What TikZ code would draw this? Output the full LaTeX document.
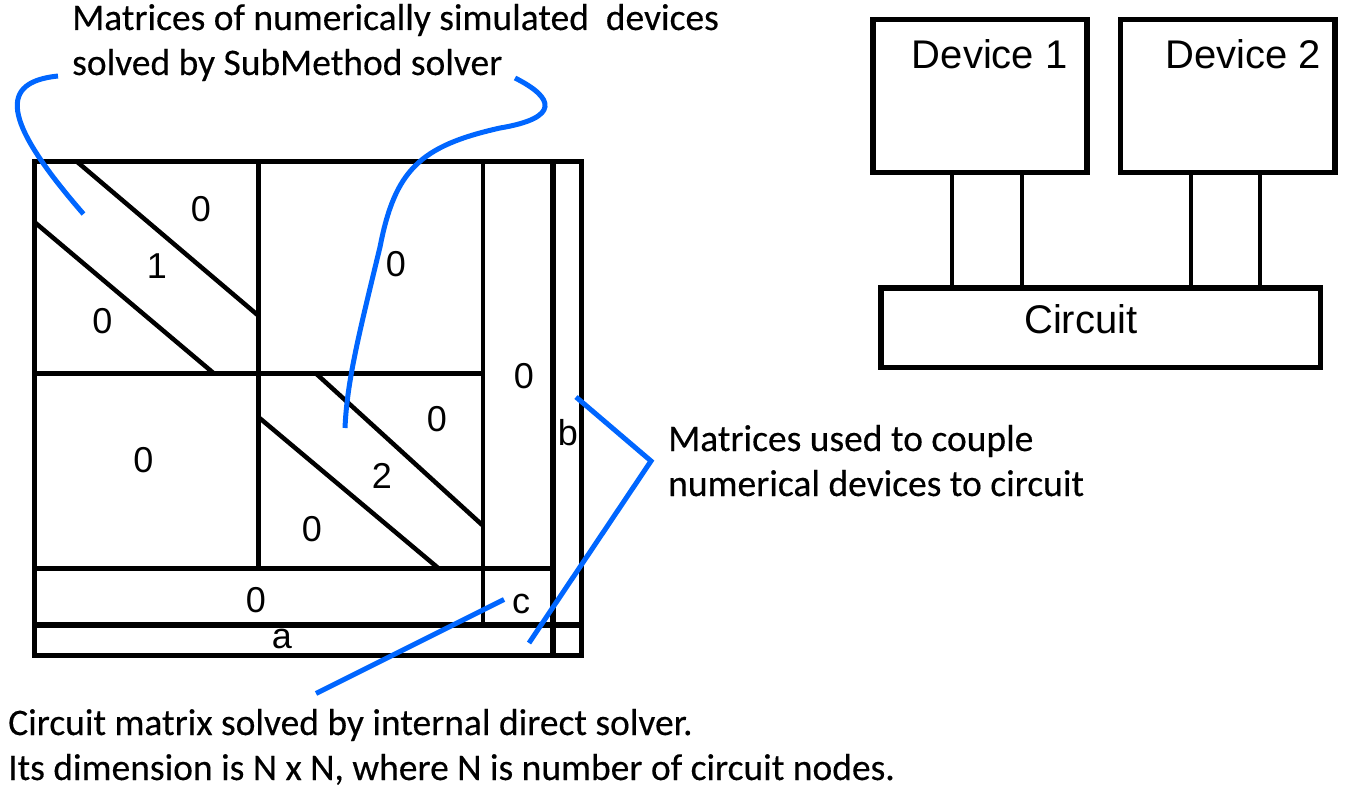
\documentclass[tikz,border=0pt]{standalone}
\usepackage{fontspec}
\setmainfont{Carlito}[FakeBold=0.3]
\newfontfamily\arialf{Liberation Sans}
\definecolor{lblue}{RGB}{0,102,255}
\tikzset{
  cal/.style={inner sep=0pt, font=\fontsize{37.5}{45}\selectfont, anchor=base west},
  dig/.style={inner sep=0pt, font=\arialf\fontsize{36}{40}\selectfont},
  devtxt/.style={inner sep=0pt, font=\arialf\fontsize{40}{44}\selectfont, anchor=base west},
  mline/.style={line width=4.5pt, black},
  devbox/.style={draw, line width=5.5pt, inner sep=0pt, outer sep=0pt},
  wire/.style={line width=4.2pt, black},
  pointer/.style={line width=5pt, lblue},
}
\begin{document}
\begin{tikzpicture}[x=1pt,y=-1pt]
\useasboundingbox (0,0) rectangle (1346,792);

% ---- matrix ----
\draw[mline, line width=5pt] (34.4,161.3) rectangle (581.7,655.5);
\draw[mline] (258.3,161.3) -- (258.3,568.7);
\draw[mline] (483,161.3) -- (483,624.8);
\draw[mline, line width=5.5pt] (553,161.3) -- (553,655.5);
\draw[mline] (34.4,373.5) -- (483,373.5);
\draw[mline] (34.4,568.7) -- (553,568.7);
\draw[mline, line width=6.5pt] (34.4,624.8) -- (581.7,624.8);
% diagonals
\draw[mline] (76.5,161.3) -- (258.3,315.6);
\draw[mline] (34.4,222) -- (214,373.5);
\draw[mline] (316,373.5) -- (483,525.7);
\draw[mline] (258.3,417) -- (439,568.7);

% matrix labels
\node[dig] (z1) at (201,209) {0};
\node[dig] (one) at (157,266) {1};
\node[dig] (z2) at (102.5,321) {0};
\node[dig] (z3) at (396,264) {0};
\node[dig] (z4) at (524,376) {0};
\node[dig] (z5) at (437,419) {0};
\node[dig] (bl) at (568,433) {b};
\node[dig] (z6) at (143.5,460) {0};
\node[dig] (two) at (382,476) {2};
\node[dig] (z7) at (312,529) {0};
\node[dig] (z8) at (256,600) {0};
\node[dig] (cl) at (521,604) {c};
\node[dig] (al) at (282,639) {a};

% ---- texts ----
\node[cal] (t1) at (72,30) {Matrices of numerically simulated\ \ devices};
\node[cal] (t2) at (72,75) {solved by SubMethod solver};
\node[cal] (r1) at (668,451) {Matrices used to couple};
\node[cal] (r2) at (668,496) {numerical devices to circuit};
\node[cal] (b1) at (8,735) {Circuit matrix solved by internal direct solver.};
\node[cal] (b2) at (8,780) {Its dimension is N x N, where N is number of circuit nodes.};

% ---- blue pointers ----
\coordinate (lA) at (58,76);
\coordinate (lB) at (83.5,214);
\coordinate (rA) at (515,78);
\coordinate (rB) at (500,128);
\coordinate (rC) at (380,247);
\coordinate (rD) at (345,428);
\coordinate (apex) at (651,461);
\coordinate (bEnd) at (576,397);
\coordinate (aEnd) at (529,643);
\coordinate (cEnd) at (504,599.5);
\coordinate (cTail) at (316,693.5);

\draw[pointer] (lA) .. controls (0,82) and (0,118) .. (lB);
\draw[pointer] (rA) .. controls (555,98) and (560,118) .. (rB)
   .. controls (420,146) and (395,170) .. (rC)
   .. controls (360,330) and (347,380) .. (rD);
\draw[pointer] (bEnd) -- (apex) -- (aEnd);
\draw[pointer] (cEnd) -- (cTail);

% ---- device diagram ----
\node[devbox, minimum width=214pt, minimum height=152.6pt] (dev1) at (980,96) {};
\node[devbox, minimum width=214.7pt, minimum height=152.6pt] (dev2) at (1227.65,96) {};
\node[devbox, minimum width=439.1pt, minimum height=79.7pt] (circ) at (1100.75,327.65) {};
\node[devtxt] (d1t) at (911.7,68.3) {Device 1};
\node[devtxt] (d2t) at (1165,68.3) {Device 2};
\node[devtxt] (ct) at (1024,333.3) {Circuit};

\coordinate (w1) at (951.7,0);
\coordinate (w2) at (1021.7,0);
\coordinate (w3) at (1190.7,0);
\coordinate (w4) at (1260,0);
\draw[wire] (w1 |- dev1.south) -- (w1 |- circ.north);
\draw[wire] (w2 |- dev1.south) -- (w2 |- circ.north);
\draw[wire] (w3 |- dev2.south) -- (w3 |- circ.north);
\draw[wire] (w4 |- dev2.south) -- (w4 |- circ.north);
\end{tikzpicture}
\end{document}
